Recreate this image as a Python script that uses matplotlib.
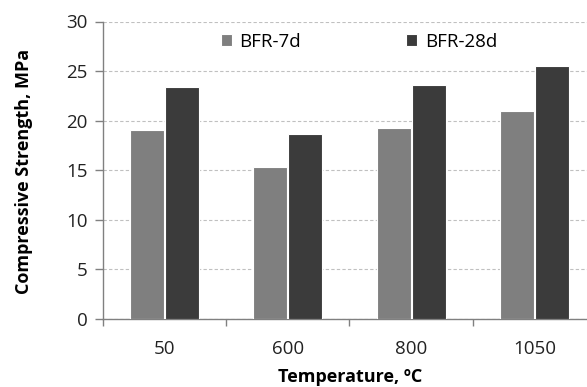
import matplotlib
matplotlib.use("Agg")
import matplotlib.pyplot as plt
import numpy as np

categories = ["50", "600", "800", "1050"]
series_names = ["BFR-7d", "BFR-28d"]
bfr_7d = [19.1, 15.3, 19.3, 21.0]
bfr_28d = [23.4, 18.7, 23.6, 25.5]
yticks = [0, 5, 10, 15, 20, 25, 30]

plt.rcParams['font.family'] = ['Open Sans', 'DejaVu Sans']

fig = plt.figure(figsize=(5.87, 3.87), dpi=100)
ax = fig.add_axes([103/587, 1-319/387, 493/587, (319-21.5)/387])

x = np.arange(len(categories))
w = 0.275
ax.bar(x - w/2 - 0.005, bfr_7d, width=w, color="#7f7f7f", edgecolor="white", linewidth=0.8, label=series_names[0], zorder=3)
ax.bar(x + w/2 + 0.005, bfr_28d, width=w, color="#3b3b3b", edgecolor="white", linewidth=0.8, label=series_names[1], zorder=3)

ax.set_xlim(-0.5, len(categories) - 0.5)
ax.set_ylim(0, 30)
ax.set_yticks(yticks)
ax.set_yticklabels([str(t) for t in yticks], fontsize=13.5, color="#222222")
ax.set_xticks(x)
ax.set_xticklabels(categories, fontsize=13.5, color="#222222")
ax.tick_params(axis='x', length=0, pad=15)
ax.set_xticks(np.arange(len(categories) + 1) - 0.5, minor=True)
ax.tick_params(axis='x', which='minor', length=5, color="#808080", width=1)
ax.tick_params(axis='y', length=6, color="#808080", width=1, pad=5)

ax.yaxis.grid(True, linestyle=(0, (3, 2)), color="#c0c0c0", linewidth=0.8, zorder=0)
for s in ["top", "right"]:
    ax.spines[s].set_visible(False)
for s in ["left", "bottom"]:
    ax.spines[s].set_color("#808080")
    ax.spines[s].set_linewidth(1)

ax.set_ylabel("Compressive Strength, MPa", fontsize=13, fontweight="bold")
ax.yaxis.set_label_coords(24/587, 1-171/387, transform=fig.transFigure)
ax.yaxis.label.set_verticalalignment("center")
ax.set_xlabel("Temperature, \u00baC", fontsize=13, fontweight="bold")
ax.xaxis.set_label_coords(350/587, 1-377/387, transform=fig.transFigure)
ax.xaxis.label.set_verticalalignment("center")

leg = ax.legend(loc="center", bbox_to_anchor=(359/587, 1-42/387), bbox_transform=fig.transFigure,
                ncol=2, frameon=False, fontsize=13.5, handlelength=0.6, handleheight=0.6,
                columnspacing=5.6, handletextpad=0.4)

fig.savefig("out.png", dpi=100)
